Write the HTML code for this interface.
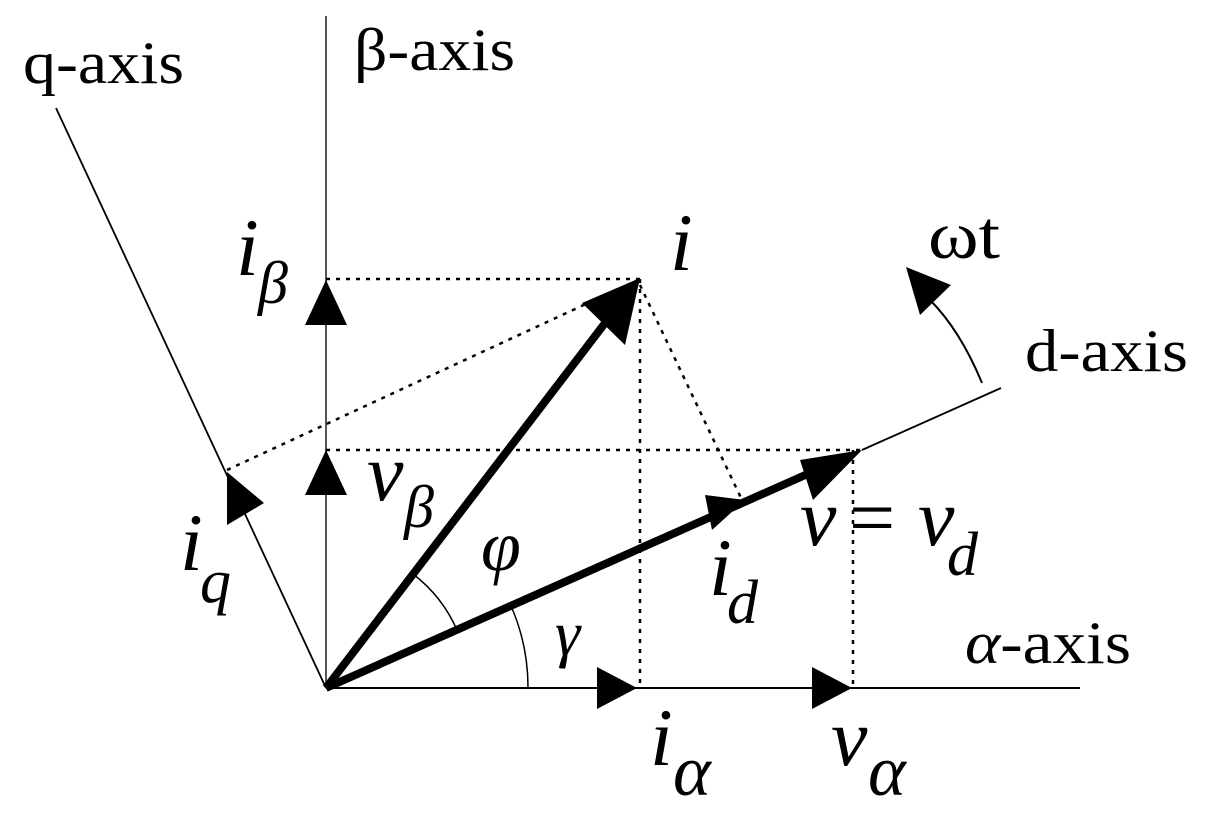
<!DOCTYPE html>
<html><head><meta charset="utf-8"><style>body{margin:0;background:#fff}svg{display:block}</style></head><body>
<svg width="1215" height="818" viewBox="0 0 1215 818" xmlns="http://www.w3.org/2000/svg">
<g fill="none" stroke="#000">
<line x1="326" y1="16" x2="326" y2="688" stroke="#555" stroke-width="2"/>
<line x1="326" y1="688" x2="1080" y2="688" stroke-width="2"/>
<line x1="56" y1="108" x2="326" y2="688" stroke-width="1.8"/>
<line x1="862" y1="450" x2="1001" y2="388" stroke-width="1.8"/>
<g stroke-dasharray="4 6" stroke-width="2.5">
<line x1="326" y1="279" x2="640" y2="279"/>
<line x1="640" y1="279" x2="640" y2="688"/>
<line x1="227" y1="470" x2="640" y2="279"/>
<line x1="640" y1="285" x2="742" y2="500"/>
<line x1="326" y1="450" x2="862" y2="450"/>
<line x1="853" y1="450" x2="853" y2="688"/>
</g>
<line x1="326" y1="688" x2="615" y2="310" stroke-width="8"/>
<line x1="326" y1="688" x2="830" y2="464" stroke-width="8"/>
<path d="M 413,574 A 143 143 0 0 1 457,630" stroke-width="1.5"/>
<path d="M 511,606 A 202 202 0 0 1 528,688" stroke-width="1.5"/>
<path d="M 982,383 Q 960,330 930,300" stroke-width="2"/>
</g>
<g fill="#000">
<polygon points="326,280 305,325 347,325"/>
<polygon points="326,450 305,495 347,495"/>
<polygon points="640,278 625,345 582,303"/>
<polygon points="862,450 813,500 800,460"/>
<polygon points="745,500 712,530 705,495"/>
<polygon points="637,688 597,667 597,709"/>
<polygon points="852,688 812,667 812,709"/>
<polygon points="227,472 264,503 227,525"/>
<polygon points="906,267 951,285 920,315"/>
</g>
<g font-family="'Liberation Serif',serif" fill="#000">
<text x="23" y="83" font-size="60" textLength="161" lengthAdjust="spacingAndGlyphs">q-axis</text>
<text x="354" y="70" font-size="60" textLength="161" lengthAdjust="spacingAndGlyphs">β-axis</text>
<text x="1025" y="371" font-size="60" textLength="163" lengthAdjust="spacingAndGlyphs">d-axis</text>
<text x="965" y="663" font-size="60" textLength="166" lengthAdjust="spacingAndGlyphs"><tspan font-style="italic">α</tspan>-axis</text>
<text x="928" y="258" font-size="68" textLength="72" lengthAdjust="spacingAndGlyphs">ωt</text>
<g font-style="italic">
<text x="236" y="275" font-size="82">i</text><text x="258" y="303" font-size="60">β</text>
<text x="670" y="270" font-size="82">i</text>
<text x="367" y="500" font-size="82">v</text><text x="404" y="527" font-size="60">β</text>
<text x="180" y="570" font-size="82">i</text><text x="200" y="602" font-size="62">q</text>
<text x="481" y="570" font-size="72">φ</text>
<text x="555" y="655" font-size="64">γ</text>
<text x="709" y="595" font-size="82">i</text><text x="727" y="623" font-size="62">d</text>
<text x="800" y="545" font-size="82">v</text>
<text x="849" y="545" font-size="82" font-style="normal">=</text>
<text x="918" y="545" font-size="82">v</text><text x="947" y="575" font-size="62">d</text>
<text x="650" y="765" font-size="82">i</text><text x="673" y="795" font-size="72">α</text>
<text x="831" y="765" font-size="82">v</text><text x="868" y="795" font-size="72">α</text>
</g>
</g>
</svg>
</body></html>
